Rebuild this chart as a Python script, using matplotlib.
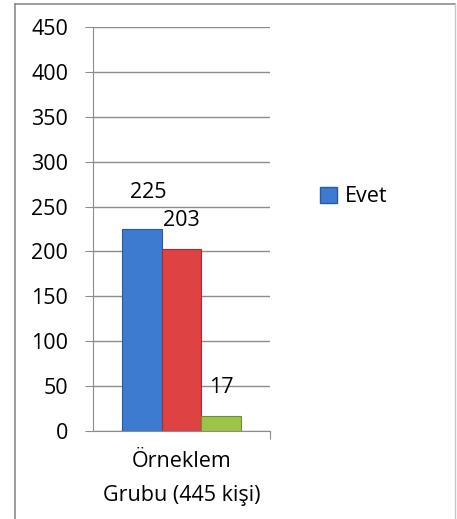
import matplotlib
matplotlib.use("Agg")
import matplotlib.pyplot as plt
from matplotlib.lines import Line2D
from matplotlib.patches import Patch

# ---------------------------------------------------------------------
# DATA
# ---------------------------------------------------------------------
category = "Örneklem\nGrubu (445 kişi)"
values = [225, 203, 17]
bar_colors = ["#3d7bd0", "#de4242", "#9bc448"]
edge_colors = ["#2a5a9e", "#a82d2d", "#6f8f2c"]
legend_labels = ["Evet"]
yticks = [0, 50, 100, 150, 200, 250, 300, 350, 400, 450]
label_offsets = [(5, 26), (0, 20), (0, 20)]   # points, per data label

plt.rcParams["font.family"] = ["Open Sans", "DejaVu Sans"]
FS = 15.5

W, H = 457, 519
fig = plt.figure(figsize=(W / 100, H / 100), dpi=100)

# outer frame (left, top, right)
fig.add_artist(Line2D([15 / W, 15 / W], [0, 1 - 4 / H], color="#8c8c8c", lw=1.2))
fig.add_artist(Line2D([15 / W, 455 / W], [1 - 4 / H, 1 - 4 / H], color="#8c8c8c", lw=1.2))
fig.add_artist(Line2D([455 / W, 455 / W], [0, 1 - 4 / H], color="#c8c8c8", lw=1.0))

ax = fig.add_axes([93 / W, 1 - 431 / H, (270 - 93) / W, (431 - 27) / H])

width = 0.225
centers = [0.5 + (i - 1) * width for i in range(len(values))]
bars = ax.bar(centers, values, width=width, color=bar_colors,
              edgecolor=edge_colors, linewidth=0.8, zorder=3)

for b, v, off in zip(bars, values, label_offsets):
    ax.annotate(str(v), (b.get_x() + b.get_width() / 2, v),
                xytext=off, textcoords="offset points",
                ha="center", va="center", fontsize=FS, color="black")

ax.set_xlim(0, 1)
ax.set_ylim(0, 450)
ax.set_yticks(yticks)
ax.set_yticklabels([str(t) for t in yticks], fontsize=FS)
ax.yaxis.grid(True, color="#8c8c8c", lw=1.0, zorder=0)
ax.tick_params(axis="y", length=6, color="#8c8c8c", pad=12)

ax.set_xticks([1.0])
ax.set_xticklabels([""])
ax.tick_params(axis="x", length=6, color="#8c8c8c", direction="out")
ax.text(0.5, -0.05, category, transform=ax.transAxes, ha="center", va="top",
        fontsize=FS, linespacing=1.8)

for s in ["top", "right"]:
    ax.spines[s].set_visible(False)
ax.spines["left"].set_color("#8c8c8c")
ax.spines["bottom"].set_color("#8c8c8c")

handles = [Patch(facecolor=bar_colors[0], edgecolor=edge_colors[0])]
fig.legend(handles, legend_labels, loc="center left",
           bbox_to_anchor=(301 / W, 1 - 197 / H), frameon=False,
           fontsize=FS, handlelength=0.75, handleheight=0.75,
           handletextpad=0.4)

fig.savefig("out.png", dpi=100)
